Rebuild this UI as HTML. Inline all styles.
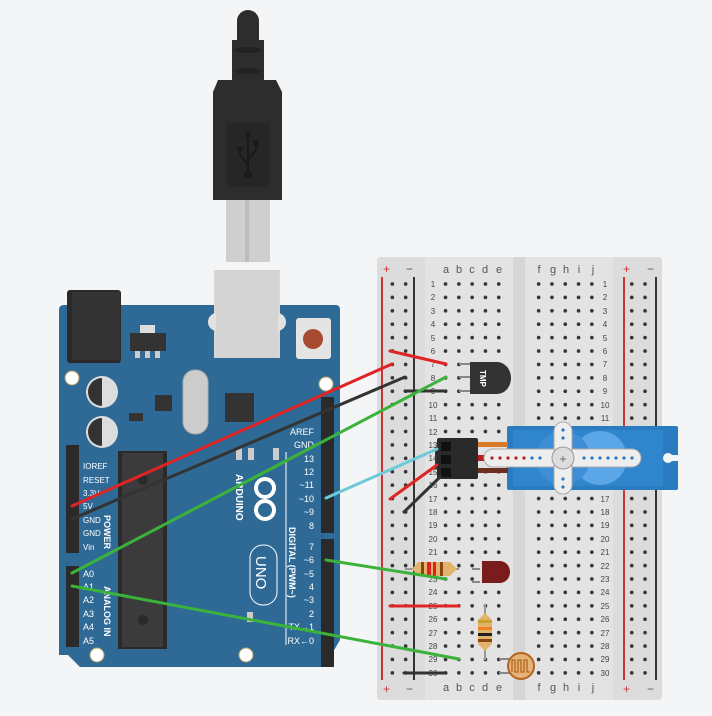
<!DOCTYPE html><html><head><style>body{margin:0;background:#f4f5f7}svg{display:block}</style></head><body>
<svg width="712" height="716" viewBox="0 0 712 716" xmlns="http://www.w3.org/2000/svg" font-family="Liberation Sans, sans-serif">
<rect width="712" height="716" fill="#f4f5f7"/>
<!-- USB cable -->
<rect x="237" y="10" width="22" height="40" rx="11" fill="#2d2d2d"/>
<rect x="232" y="40" width="32" height="42" fill="#2d2d2d"/>
<ellipse cx="248" cy="50" rx="13" ry="3" fill="#222"/><ellipse cx="248" cy="71" rx="13" ry="3" fill="#222"/>
<path d="M218 80 H276 L282 92 V200 H213 V92 Z" fill="#2d2d2d"/>
<rect x="227" y="123" width="42" height="64" fill="#262626"/>
<g stroke="#1a1a1a" stroke-width="2" fill="none"><path d="M248 133 V172 M248 165 L240 155 V150 M248 160 L256 150 V143"/></g>
<circle cx="248" cy="174" r="4" fill="#1a1a1a"/><circle cx="240" cy="149" r="2.5" fill="#1a1a1a"/><rect x="253" y="140" width="6" height="6" fill="#1a1a1a"/>
<path d="M244 137 L248 130 L252 137Z" fill="#1a1a1a"/>
<rect x="226" y="200" width="44" height="62" fill="#cfcfcf"/><rect x="245" y="200" width="4" height="62" fill="#bdbdbd"/>
<!-- Arduino -->
<path d="M59 310 Q59 305 64 305 H336 Q340 305 340 310 V640 L333 652 V667 H80 L68 655 H59 Z" fill="#2f6a96"/>
<rect x="67" y="290" width="54" height="73" rx="3" fill="#2a2a2a"/><rect x="72" y="292" width="48" height="68" fill="#333"/>
<rect x="140" y="325" width="15" height="10" fill="#ddd"/><rect x="130" y="333" width="36" height="18" fill="#333"/>
<rect x="135" y="351" width="5" height="7" fill="#ccc"/><rect x="145" y="351" width="5" height="7" fill="#ccc"/><rect x="155" y="351" width="5" height="7" fill="#ccc"/>
<rect x="214" y="270" width="66" height="88" fill="#d7d7d7"/><rect x="208" y="313" width="78" height="18" rx="9" fill="#e2e2e2"/><rect x="216" y="270" width="62" height="88" fill="#d4d4d4"/>
<rect x="296" y="318" width="35" height="41" rx="3" fill="#e4e4e4"/><circle cx="313" cy="339" r="10" fill="#a84a30"/>
<g fill="#fff" stroke="#b7a36a" stroke-width="1"><circle cx="72" cy="378" r="7"/><circle cx="326" cy="384" r="7"/><circle cx="97" cy="655" r="7"/><circle cx="246" cy="655" r="7"/></g>
<g><circle cx="102" cy="392" r="16" fill="#ddd"/><path d="M102 378 A14 14 0 0 0 102 406Z" fill="#333"/><circle cx="102" cy="432" r="16" fill="#ddd"/><path d="M102 418 A14 14 0 0 0 102 446Z" fill="#333"/></g>
<rect x="155" y="395" width="17" height="16" fill="#333"/><rect x="129" y="413" width="14" height="8" fill="#333"/>
<rect x="183" y="370" width="25" height="64" rx="12" fill="#ccc" stroke="#aaa"/>
<rect x="225" y="393" width="29" height="29" fill="#333"/>
<rect x="236" y="448" width="6" height="12" fill="#ccc"/><rect x="248" y="448" width="6" height="12" fill="#ccc"/><rect x="273" y="448" width="6" height="12" fill="#ccc"/>
<rect x="66" y="445" width="13" height="108" fill="#2a2a2a"/><rect x="66" y="566" width="13" height="81" fill="#2a2a2a"/>
<rect x="321" y="397" width="13" height="136" fill="#2a2a2a"/><rect x="321" y="539" width="13" height="128" fill="#2a2a2a"/>
<rect x="118" y="451" width="49" height="198" fill="#2a2a2a"/><rect x="122" y="453" width="41" height="194" fill="#3b3b3b"/>
<circle cx="143" cy="480" r="5" fill="#2a2a2a"/><circle cx="143" cy="620" r="5" fill="#2a2a2a"/>
<g fill="#fff" font-size="8"><text x="83" y="469">IOREF</text><text x="83" y="483">RESET</text><text x="83" y="496">3.3V</text><text x="83" y="509">5V</text><text x="83" y="523">GND</text><text x="83" y="536">GND</text><text x="83" y="550">Vin</text></g>
<g fill="#fff" font-size="9"><text x="83" y="577">A0</text><text x="83" y="590">A1</text><text x="83" y="603">A2</text><text x="83" y="617">A3</text><text x="83" y="630">A4</text><text x="83" y="644">A5</text></g>
<g fill="#fff" font-size="9" text-anchor="end"><text x="314" y="435">AREF</text><text x="314" y="448">GND</text><text x="314" y="462">13</text><text x="314" y="475">12</text><text x="314" y="488">~11</text><text x="314" y="502">~10</text><text x="314" y="515">~9</text><text x="314" y="529">8</text><text x="314" y="550">7</text><text x="314" y="563">~6</text><text x="314" y="577">~5</text><text x="314" y="590">4</text><text x="314" y="603">~3</text><text x="314" y="617">2</text><text x="314" y="630">TX→1</text><text x="314" y="644">RX←0</text></g>
<g fill="#fff" font-size="9" font-weight="bold"><text transform="translate(104,515) rotate(90)">POWER</text><text transform="translate(104,586) rotate(90)">ANALOG IN</text><text transform="translate(289,527) rotate(90)">DIGITAL (PWM~)</text><text transform="translate(236,474) rotate(90)" font-size="10">ARDUINO</text></g>
<line x1="286" y1="452" x2="286" y2="645" stroke="#fff"/>
<g fill="none" stroke="#fff" stroke-width="4"><circle cx="265" cy="488" r="9"/><circle cx="265" cy="510" r="9"/></g>
<rect x="250" y="545" width="27" height="60" rx="13" fill="none" stroke="#fff"/><text transform="translate(256,556) rotate(90)" fill="#fff" font-size="15">UNO</text>
<rect x="247" y="612" width="6" height="10" fill="#ccc"/>
<!-- Breadboard -->
<rect x="377" y="257" width="285" height="443" rx="3" fill="#dcdcdc"/>
<rect x="425" y="257" width="188" height="443" fill="#e3e3e3"/><rect x="513" y="257" width="12" height="443" fill="#d6d6d6"/>
<g stroke-width="2"><line x1="382" y1="277" x2="382" y2="680" stroke="#c33"/><line x1="414" y1="277" x2="414" y2="680" stroke="#333"/><line x1="624" y1="277" x2="624" y2="680" stroke="#c33"/><line x1="656" y1="277" x2="656" y2="680" stroke="#333"/></g>
<g font-size="12" fill="#c33"><text x="383" y="273">+</text><text x="383" y="693">+</text><text x="623" y="273">+</text><text x="623" y="693">+</text></g>
<g font-size="12" fill="#555"><text x="406" y="273">−</text><text x="406" y="693">−</text><text x="647" y="273">−</text><text x="647" y="693">−</text></g>
<g font-size="11" fill="#555" text-anchor="middle">
<text x="446" y="273">a</text><text x="459" y="273">b</text><text x="472" y="273">c</text><text x="485" y="273">d</text><text x="499" y="273">e</text><text x="539" y="273">f</text><text x="553" y="273">g</text><text x="566" y="273">h</text><text x="579" y="273">i</text><text x="593" y="273">j</text>
<text x="446" y="691">a</text><text x="459" y="691">b</text><text x="472" y="691">c</text><text x="485" y="691">d</text><text x="499" y="691">e</text><text x="539" y="691">f</text><text x="553" y="691">g</text><text x="566" y="691">h</text><text x="579" y="691">i</text><text x="593" y="691">j</text></g>
<g id="rows" font-size="8" fill="#555" text-anchor="middle">
<script>/* no */</script>
</g>
<g fill="#333">
<!-- holes generated via pattern -->
</g>
<defs>
<pattern id="rh" x="0" y="277.3" width="13" height="13.41" patternUnits="userSpaceOnUse"><circle cx="0" cy="6.7" r="1.8" fill="#333"/></pattern>
<pattern id="hp" x="0" y="277.3" width="13.3" height="13.41" patternUnits="userSpaceOnUse"><circle cx="6.65" cy="6.7" r="1.8" fill="#333"/></pattern>
</defs>
<g fill="#333">
<rect x="385" y="277" width="27" height="403" fill="url(#hp)" transform="translate(0,0)"/>
</g>
<g fill="#333" font-size="8" text-anchor="middle" id="dots"></g>
<!-- rows labels and holes drawn explicitly -->
<g fill="#444" font-size="8" text-anchor="middle">
<text x="433" y="287">1</text><text x="433" y="300">2</text><text x="433" y="314">3</text><text x="433" y="327">4</text><text x="433" y="341">5</text><text x="433" y="354">6</text><text x="433" y="367">7</text><text x="433" y="381">8</text><text x="433" y="394">9</text><text x="433" y="408">10</text><text x="433" y="421">11</text><text x="433" y="435">12</text><text x="433" y="448">13</text><text x="433" y="461">14</text><text x="433" y="475">15</text><text x="433" y="488">16</text><text x="433" y="502">17</text><text x="433" y="515">18</text><text x="433" y="528">19</text><text x="433" y="542">20</text><text x="433" y="555">21</text><text x="433" y="569">22</text><text x="433" y="582">23</text><text x="433" y="595">24</text><text x="433" y="609">25</text><text x="433" y="622">26</text><text x="433" y="636">27</text><text x="433" y="649">28</text><text x="433" y="662">29</text><text x="433" y="676">30</text>
<text x="605" y="287">1</text><text x="605" y="300">2</text><text x="605" y="314">3</text><text x="605" y="327">4</text><text x="605" y="341">5</text><text x="605" y="354">6</text><text x="605" y="367">7</text><text x="605" y="381">8</text><text x="605" y="394">9</text><text x="605" y="408">10</text><text x="605" y="421">11</text><text x="605" y="435">12</text><text x="605" y="448">13</text><text x="605" y="461">14</text><text x="605" y="475">15</text><text x="605" y="488">16</text><text x="605" y="502">17</text><text x="605" y="515">18</text><text x="605" y="528">19</text><text x="605" y="542">20</text><text x="605" y="555">21</text><text x="605" y="569">22</text><text x="605" y="582">23</text><text x="605" y="595">24</text><text x="605" y="609">25</text><text x="605" y="622">26</text><text x="605" y="636">27</text><text x="605" y="649">28</text><text x="605" y="662">29</text><text x="605" y="676">30</text>
</g>
<rect x="439.35" y="277" width="66.5" height="403" fill="url(#hp)"/>
<rect x="532.35" y="277" width="66.5" height="403" fill="url(#hp)"/>
<rect x="626.35" y="277" width="26.6" height="403" fill="url(#hp)"/>
<!-- TMP -->
<g stroke="#888" stroke-width="2" fill="none"><path d="M459 364 H472"/><path d="M459 377 H472"/><path d="M459 391 H472"/></g>
<path d="M470 362 H497 A14 16 0 0 1 497 394 H470 Z" fill="#333"/><text transform="translate(480,370) rotate(90)" fill="#fff" font-size="8" font-weight="bold">TMP</text>
<!-- servo -->
<rect x="507" y="426" width="171" height="64" rx="2" fill="#2a7bc0"/><rect x="513" y="430" width="150" height="56" fill="#2f86cc"/>
<circle cx="600" cy="458" r="27" fill="#5aa6e6"/><circle cx="563" cy="458" r="27" fill="#3e8ed6"/>
<path d="M435 447 L470 447 L470 469 L435 469Z" fill="#333"/>
<rect x="478" y="442" width="30" height="5" fill="#d97a2b"/><rect x="478" y="455" width="30" height="6" fill="#b52020"/><rect x="478" y="468" width="30" height="5" fill="#6b2f1f"/>
<rect x="484" y="449" width="157" height="18" rx="9" fill="#eee" stroke="#aaa"/>
<rect x="554" y="422" width="18" height="72" rx="9" fill="#eee" stroke="#aaa"/>
<circle cx="563" cy="458" r="11" fill="#ddd" stroke="#999"/><text x="563" y="463" text-anchor="middle" font-size="12" fill="#666">+</text>
<g fill="#b52020"><circle cx="492" cy="458" r="1.6"/><circle cx="500" cy="458" r="1.6"/><circle cx="508" cy="458" r="1.6"/><circle cx="516" cy="458" r="1.6"/><circle cx="524" cy="458" r="1.6"/></g>
<g fill="#2a7bc0"><circle cx="532" cy="458" r="1.6"/><circle cx="540" cy="458" r="1.6"/><circle cx="584" cy="458" r="1.6"/><circle cx="592" cy="458" r="1.6"/><circle cx="600" cy="458" r="1.6"/><circle cx="608" cy="458" r="1.6"/><circle cx="616" cy="458" r="1.6"/><circle cx="624" cy="458" r="1.6"/><circle cx="632" cy="458" r="1.6"/><circle cx="563" cy="430" r="1.6"/><circle cx="563" cy="438" r="1.6"/><circle cx="563" cy="479" r="1.6"/><circle cx="563" cy="487" r="1.6"/></g>
<circle cx="668" cy="458" r="5" fill="#f4f5f7"/><rect x="668" y="455" width="12" height="6" fill="#f4f5f7"/>
<rect x="437" y="438" width="41" height="41" rx="2" fill="#2a2a2a"/>
<rect x="441" y="442" width="10" height="9" fill="#111"/><rect x="441" y="455" width="10" height="9" fill="#111"/><rect x="441" y="468" width="10" height="9" fill="#111"/>
<!-- resistor row 22 -->
<line x1="405" y1="569" x2="459" y2="569" stroke="#999" stroke-width="2"/>
<path d="M412 569 L418 562 H450 L457 569 L450 576 H418Z" fill="#e0b46b"/>
<rect x="421" y="562" width="3" height="14" fill="#8b4513"/><rect x="427" y="562" width="4" height="14" fill="#e02020"/><rect x="433" y="562" width="3" height="14" fill="#e02020"/><rect x="440" y="562" width="3" height="14" fill="#8b4513"/>
<!-- LED -->
<path d="M472 569 H480 M472 582 H480" stroke="#888" stroke-width="2"/>
<path d="M482 561 H500 A10 11 0 0 1 500 583 H482 Z" fill="#7a1c1c"/>
<!-- vertical resistor -->
<line x1="485" y1="604" x2="485" y2="660" stroke="#999" stroke-width="2"/>
<path d="M485 613 L492 620 V644 L485 651 L478 644 V620Z" fill="#e0b46b"/>
<rect x="478" y="620" width="14" height="3" fill="#c8a030"/><rect x="478" y="627" width="14" height="3" fill="#f08020"/><rect x="478" y="633" width="14" height="3" fill="#222"/><rect x="478" y="639" width="14" height="3" fill="#8b4513"/>
<!-- photoresistor -->
<path d="M499 659 H510 M499 673 H510" stroke="#888" stroke-width="2"/>
<circle cx="521" cy="666" r="13" fill="#e3b37a" stroke="#b5651d" stroke-width="2"/>
<path d="M512 672 V660 H515 V672 H518 V660 H521 V672 H524 V660 H527 V672 H530" fill="none" stroke="#b5651d" stroke-width="1.3"/>
<!-- wires -->
<g stroke-width="3" stroke-linecap="round" fill="none">
<line x1="390" y1="351" x2="446" y2="364" stroke="#e02424"/>
<line x1="72" y1="506" x2="392" y2="364" stroke="#e02424"/>
<line x1="72" y1="519" x2="405" y2="377" stroke="#333"/>
<line x1="405" y1="391" x2="446" y2="391" stroke="#333"/>
<line x1="72" y1="573" x2="446" y2="377" stroke="#3bb33b"/>
<line x1="326" y1="498" x2="437" y2="449" stroke="#6ccbd8"/>
<line x1="390" y1="499" x2="437" y2="465" stroke="#e02424"/>
<line x1="404" y1="512" x2="440" y2="477" stroke="#333"/>
<line x1="326" y1="560" x2="446" y2="579" stroke="#3bb33b"/>
<line x1="72" y1="586" x2="459" y2="659" stroke="#3bb33b"/>
<line x1="390" y1="606" x2="459" y2="606" stroke="#e02424"/>
<line x1="404" y1="673" x2="446" y2="673" stroke="#333"/>
</g>
</svg>
</body></html>
